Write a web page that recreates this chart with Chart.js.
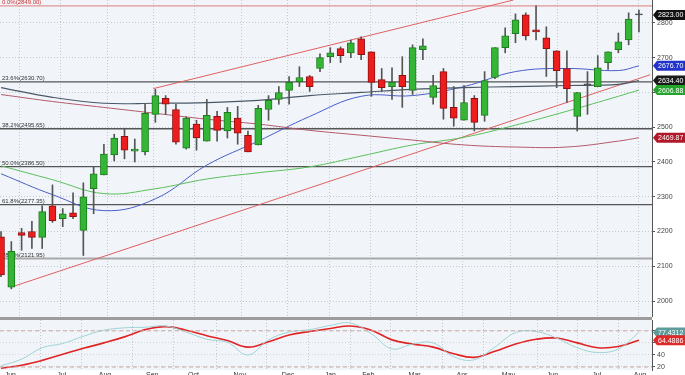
<!DOCTYPE html>
<html>
<head>
<meta charset="utf-8">
<script src="https://cdn.jsdelivr.net/npm/chart.js@4.4.1/dist/chart.umd.min.js"></script>
<style>
  html, body { margin: 0; padding: 0; background: #fff; overflow: hidden; }
  #wrap { position: relative; width: 685px; height: 375px; overflow: hidden; }
  #main { position: absolute; left: 0; top: 0; }
  #sep { position: absolute; left: 0; top: 317px; width: 652px; height: 3px; background: #9c9c9c; }
  #stoch { position: absolute; left: 0; top: 320px; }
</style>
</head>
<body>
<div id="wrap">
  <canvas id="main" width="685" height="317"></canvas>
  <div id="sep"></div>
  <canvas id="stoch" width="685" height="70"></canvas>
</div>
<script>
// weekly candles, one per index
const opens  = [2185,2040,2197,2200,2183,2274,2237,2254,2203,2323,2363,2420,2474,2431,2429,2537,2583,2551,2440,2509,2460,2531,2489,2526,2477,2449,2551,2580,2606,2631,2646,2669,2703,2726,2714,2754,2717,2637,2617,2649,2606,2723,2586,2660,2557,2520,2583,2534,2643,2729,2769,2823,2780,2757,2720,2669,2531,2622,2617,2686,2723,2751,2823];
const highs  = [2200,2171,2209,2229,2274,2334,2266,2311,2340,2386,2451,2480,2497,2466,2566,2609,2591,2566,2530,2520,2580,2546,2557,2560,2489,2563,2591,2617,2646,2674,2649,2711,2729,2731,2751,2760,2717,2669,2671,2703,2737,2754,2649,2669,2617,2620,2591,2660,2729,2786,2826,2829,2849,2789,2720,2720,2600,2660,2706,2717,2771,2829,2837];
const lows   = [2070,2035,2146,2151,2151,2226,2214,2237,2131,2251,2363,2403,2409,2400,2420,2514,2537,2451,2437,2434,2460,2460,2469,2451,2429,2449,2520,2566,2566,2617,2603,2660,2686,2686,2700,2694,2589,2603,2580,2557,2594,2694,2566,2523,2503,2520,2489,2517,2640,2714,2743,2751,2751,2646,2614,2571,2489,2537,2617,2666,2714,2737,2774];
const closes = [2075,2143,2189,2183,2257,2231,2251,2243,2300,2366,2423,2469,2434,2437,2540,2591,2566,2457,2526,2469,2534,2491,2543,2483,2429,2554,2577,2600,2629,2643,2617,2700,2714,2706,2743,2709,2629,2614,2629,2617,2729,2734,2620,2554,2526,2571,2514,2634,2729,2763,2809,2763,2774,2726,2663,2611,2600,2622,2671,2717,2746,2811,2823];

// moving averages, read at these candle indices
const maIdx    = [0, 5, 10, 15, 20, 25, 30, 35, 40, 45, 50, 55, 60, 62];
const maBlue   = [2366,2306,2260,2294,2391,2460,2531,2589,2591,2617,2660,2669,2663,2676.70];
const maGreen  = [2389,2349,2309,2323,2351,2369,2386,2417,2449,2471,2506,2546,2589,2606.88];
const maSlate  = [2614,2586,2569,2569,2571,2577,2591,2600,2609,2614,2617,2620,2623,2634.40];
const maMaroon = [2594,2574,2557,2540,2523,2509,2491,2477,2463,2449,2443,2443,2460,2469.87];

// trend channel lines (candle index, price)
const upperX = [14.8, 49.8];
const upperY = [2611, 2866];
const lowerX = [1, 63.1];
const lowerY = [2040, 2651];

// fibonacci retracement
const fibPct = ['0.0%', '23.6%', '38.2%', '50.0%', '61.8%', '78.6%'];
const fibVal = [2849.00, 2630.70, 2495.65, 2386.50, 2277.35, 2121.95];

// price tick labels and last-value tags
const yTicks = [2000, 2100, 2200, 2300, 2400, 2500, 2600, 2700, 2800];
const tagVals = [2823.00, 2676.70, 2634.40, 2606.88, 2469.87];
const tagColors = ['#111111', '#2233cc', '#1a1a1a', '#22a52a', '#b0182a'];

// stochastic oscillator
const stochIdx = [0,2,4,6,8,10,12,14,16,18,20,22,24,26,28,30,32,34,36,38,40,42,44,46,48,50,52,54,56,58,60,62];
const stochK = [22,33,52,59,71,81,85,86,88,78,66,61,40,65,78,82,89,93,75,50,58,60,37,32,53,77,79,68,52,44,50,77.4312];
const stochD = [18,23,31,41,51,60,70,82,87,81,72,64,53,62,73,79,84,88,81,65,58,53,42,36,46,58,66,68,60,52,54,64.4886];
const stochTicks = [20, 40, 60, 80];

// months
const gridIdx = [3.8, 7.8, 12.8, 16.8, 20.9, 25.8, 29.9, 34, 37.9, 42.9, 46.9, 52.1, 56, 60];
const monthIdx = [0.9, 5.9, 10.1, 14.7, 18.7, 23.2, 27.9, 32, 35.7, 40.2, 44.8, 49.3, 53.6, 57.9, 62.1];
const monthLabels = ['Jun','Jul','Aug','Sep','Oct','Nov','Dec','Jan','Feb','Mar','Apr','May','Jun','Jul','Aug'];

const X_MIN = -0.1, X_MAX = 63.27;
const FONT = "'Liberation Sans', Arial, sans-serif";

const pts = (xs, ys) => xs.map((x, i) => ({ x: x, y: ys[i] }));

function noPad(scale) {
  scale.paddingTop = 0; scale.paddingBottom = 0;
  scale.paddingLeft = 0; scale.paddingRight = 0;
}

const plotBg = {
  id: 'plotBg',
  beforeDraw(chart) {
    const a = chart.chartArea, ctx = chart.ctx;
    ctx.save();
    ctx.fillStyle = '#f1f5fa';
    ctx.fillRect(a.left, a.top, a.right - a.left, a.bottom - a.top);
    ctx.restore();
  }
};

const tags = {
  id: 'tags',
  afterDraw(chart, args, opts) {
    const ctx = chart.ctx, y = chart.scales.y, a = chart.chartArea;
    ctx.save();
    ctx.font = '7px ' + FONT;
    ctx.textBaseline = 'middle';
    opts.values.forEach((v, i) => {
      const py = y.getPixelForValue(v);
      const x0 = a.right + 1;
      ctx.fillStyle = opts.colors[i];
      ctx.beginPath();
      ctx.moveTo(x0, py);
      ctx.lineTo(x0 + 4, py - 5);
      ctx.lineTo(chart.width, py - 5);
      ctx.lineTo(chart.width, py + 5);
      ctx.lineTo(x0 + 4, py + 5);
      ctx.closePath();
      ctx.fill();
      ctx.fillStyle = '#fff';
      ctx.fillText(opts.texts[i], x0 + 5, py + 0.5);
    });
    ctx.restore();
  }
};

const fibLabels = {
  id: 'fibLabels',
  beforeDatasetsDraw(chart) {
    const ctx = chart.ctx, y = chart.scales.y;
    ctx.save();
    ctx.font = '6px ' + FONT;
    ctx.textBaseline = 'bottom';
    fibVal.forEach((v, i) => {
      ctx.fillStyle = i === 0 ? '#d03030' : '#333';
      ctx.fillText(fibPct[i] + '(' + v.toFixed(2) + ')', 2, y.getPixelForValue(v) - 0.5);
    });
    ctx.restore();
  }
};

// ---- main price chart ----
const bodies = opens.map((o, i) => ({ x: i, y: [Math.min(o, closes[i]), Math.max(o, closes[i])] }));
const wicks = highs.map((h, i) => ({ x: i, y: [lows[i], h] }));
const bodyFill = opens.map((o, i) => closes[i] > o ? '#35b535' : closes[i] < o ? '#ee1d1d' : '#444');
const bodyLine = opens.map((o, i) => closes[i] > o ? '#1d7d1d' : closes[i] < o ? '#8d1111' : '#444');

const maLine = (data, color, w) => ({
  type: 'line', data: pts(maIdx, data), borderColor: color, borderWidth: w,
  pointRadius: 0, tension: 0.4, order: 2
});
const hLine = (v, color, w) => ({
  type: 'line', data: pts([X_MIN, X_MAX], [v, v]), borderColor: color, borderWidth: w,
  pointRadius: 0, order: 3
});

new Chart(document.getElementById('main'), {
  type: 'bar',
  data: {
    datasets: [
      { data: bodies, backgroundColor: bodyFill, borderColor: bodyLine, borderWidth: 1,
        borderSkipped: false, barThickness: 7, minBarLength: 1, grouped: false, order: 0 },
      { data: wicks, backgroundColor: '#555', borderWidth: 0, barThickness: 1, grouped: false, order: 1 },
      maLine(maMaroon, '#b45a6a', 1),
      maLine(maSlate, '#4a5866', 1.2),
      maLine(maGreen, '#5cc05c', 1),
      maLine(maBlue, '#4a5fc8', 1),
      { type: 'line', data: pts(upperX, upperY), borderColor: '#e06060', borderWidth: 1, pointRadius: 0, order: 2 },
      { type: 'line', data: pts(lowerX, lowerY), borderColor: '#e06060', borderWidth: 1, pointRadius: 0, order: 2 },
      hLine(fibVal[0], '#e07a7a', 1),
      hLine(fibVal[1], '#555', 1.3),
      hLine(fibVal[2], '#555', 1.3),
      hLine(fibVal[3], '#555', 1.3),
      hLine(fibVal[4], '#555', 1.3),
      hLine(fibVal[5], '#a8a8a8', 2)
    ]
  },
  options: {
    responsive: false,
    animation: false,
    devicePixelRatio: 1,
    layout: { padding: 0 },
    plugins: {
      legend: { display: false },
      tooltip: { enabled: false },
      tags: {
        values: tagVals,
        colors: tagColors,
        texts: tagVals.map(v => v.toFixed(2))
      }
    },
    scales: {
      x: {
        type: 'linear', min: X_MIN, max: X_MAX, offset: false,
        afterBuildTicks: s => { s.ticks = gridIdx.map(v => ({ value: v })); },
        afterFit: s => { s.height = 0; noPad(s); },
        ticks: { display: false },
        grid: { color: '#c4c9cf', drawTicks: false },
        border: { display: false, dash: [1, 2] }
      },
      y: {
        position: 'right', min: 1954, max: 2866,
        afterBuildTicks: s => { s.ticks = yTicks.map(v => ({ value: v })); },
        afterFit: s => { s.width = 33; noPad(s); },
        ticks: { font: { size: 7, family: FONT }, color: '#444', padding: 2, callback: v => String(v) },
        grid: { color: '#c4c9cf', tickLength: 3, tickColor: '#555' },
        border: { color: '#555', width: 1, dash: [1, 2] }
      }
    }
  },
  plugins: [plotBg, fibLabels, tags]
});

// ---- stochastic panel ----
new Chart(document.getElementById('stoch'), {
  type: 'line',
  data: {
    datasets: [
      { data: pts([X_MIN, X_MAX], [80, 80]), borderColor: '#c8a8a0', borderWidth: 1, borderDash: [4, 3], pointRadius: 0 },
      { data: pts([X_MIN, X_MAX], [20, 20]), borderColor: '#c8a8a0', borderWidth: 1, borderDash: [4, 3], pointRadius: 0 },
      { data: pts(stochIdx, stochK), borderColor: '#9fd4d6', borderWidth: 1, pointRadius: 0, tension: 0.4 },
      { data: pts(stochIdx, stochD), borderColor: '#e02424', borderWidth: 1.6, pointRadius: 0, tension: 0.4 }
    ]
  },
  options: {
    responsive: false,
    animation: false,
    devicePixelRatio: 1,
    layout: { padding: 0 },
    plugins: {
      legend: { display: false },
      tooltip: { enabled: false },
      tags: {
        values: [77.4312, 64.4886],
        colors: ['#5e9c9c', '#e02a2a'],
        texts: ['77.4312', '64.4886']
      }
    },
    scales: {
      x: {
        type: 'linear', min: X_MIN, max: X_MAX, position: 'bottom',
        afterBuildTicks: s => { s.ticks = gridIdx.map(v => ({ value: v })); },
        afterFit: s => { s.height = 0; noPad(s); },
        ticks: { display: false },
        grid: { color: '#c4c9cf', drawTicks: false },
        border: { display: false, dash: [1, 2] }
      },
      x2: {
        type: 'linear', min: X_MIN, max: X_MAX, position: 'bottom',
        afterBuildTicks: s => { s.ticks = monthIdx.map(v => ({ value: v })); },
        afterFit: s => { s.height = 20; noPad(s); },
        ticks: {
          font: { size: 7, family: FONT }, color: '#333', padding: 1, maxRotation: 0, autoSkip: false,
          callback: (v, i) => monthLabels[i]
        },
        grid: { display: false, drawTicks: false },
        border: { display: false }
      },
      y: {
        position: 'right', min: 15, max: 98,
        afterBuildTicks: s => { s.ticks = stochTicks.map(v => ({ value: v })); },
        afterFit: s => { s.width = 33; noPad(s); },
        ticks: { font: { size: 7, family: FONT }, color: '#444', padding: 2 },
        grid: { color: '#d0d4d8', tickLength: 3, tickColor: '#555' },
        border: { color: '#555', width: 1, dash: [1, 2] }
      }
    }
  },
  plugins: [plotBg, tags]
});
</script>
</body>
</html>
